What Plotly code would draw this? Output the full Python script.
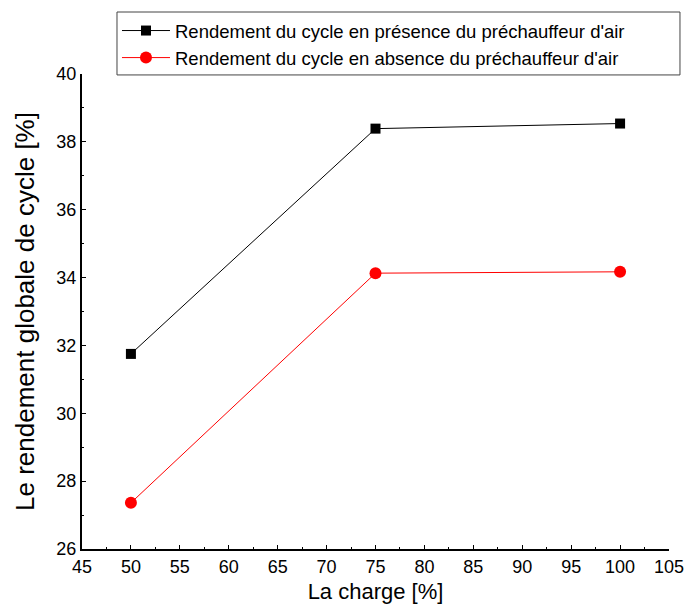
import plotly.graph_objects as go

charge = [50, 75, 100]
avec_prechauffeur = [31.75, 38.39, 38.54]
sans_prechauffeur = [27.36, 34.13, 34.17]
name_avec = "Rendement du cycle en présence du préchauffeur d'air"
name_sans = "Rendement du cycle en absence du préchauffeur d'air"

FONT = "Liberation Sans, Arial, sans-serif"

fig = go.Figure()
fig.add_trace(go.Scatter(x=charge, y=avec_prechauffeur, mode="lines+markers", name=name_avec,
                         line=dict(color="black", width=1),
                         marker=dict(symbol="square", size=10, color="black")))
fig.add_trace(go.Scatter(x=charge, y=sans_prechauffeur, mode="lines+markers", name=name_sans,
                         line=dict(color="red", width=1),
                         marker=dict(symbol="circle", size=12, color="red")))

# legend frame (reference's box extends beyond the text)
fig.add_shape(type="rect", xref="paper", yref="paper",
              x0=0.0596, x1=1.0187, y0=0.998, y1=1.1305,
              line=dict(color="#444", width=1), fillcolor="rgba(0,0,0,0)", layer="above")

fig.update_layout(
    width=684, height=604,
    margin=dict(l=82, r=15, t=74, b=55),
    paper_bgcolor="white", plot_bgcolor="white",
    font=dict(family=FONT, size=18, color="black"),
    showlegend=True,
    legend=dict(x=0.0596, y=1.1305, xanchor="left", yanchor="top",
                bgcolor="rgba(0,0,0,0)", borderwidth=0,
                font=dict(size=18.5, family=FONT), tracegroupgap=0,
                itemwidth=48),
    xaxis=dict(range=[45, 105], tickvals=list(range(45, 106, 5)), automargin=False,
               showgrid=False, zeroline=False, showline=True, linecolor="black", linewidth=2,
               ticks="inside", ticklen=4, tickcolor="black", tickangle=0,
               ticklabeloverflow="allow",
               minor=dict(ticks="inside", ticklen=2, dtick=2.5, tick0=45, tickcolor="black"),
               title=dict(text="La charge [%]", font=dict(size=22, family=FONT), standoff=14),
               tickfont=dict(size=18)),
    yaxis=dict(range=[26, 40], dtick=2, tick0=26, automargin=False,
               showgrid=False, zeroline=False, showline=True, linecolor="black", linewidth=2,
               ticks="inside", ticklen=4, tickcolor="black",
               ticklabeloverflow="allow",
               minor=dict(ticks="inside", ticklen=2, dtick=1, tick0=26, tickcolor="black"),
               title=dict(text="Le rendement globale de cycle [%]", font=dict(size=26, family=FONT), standoff=14),
               tickfont=dict(size=18)),
)

fig.write_html("out.html")
